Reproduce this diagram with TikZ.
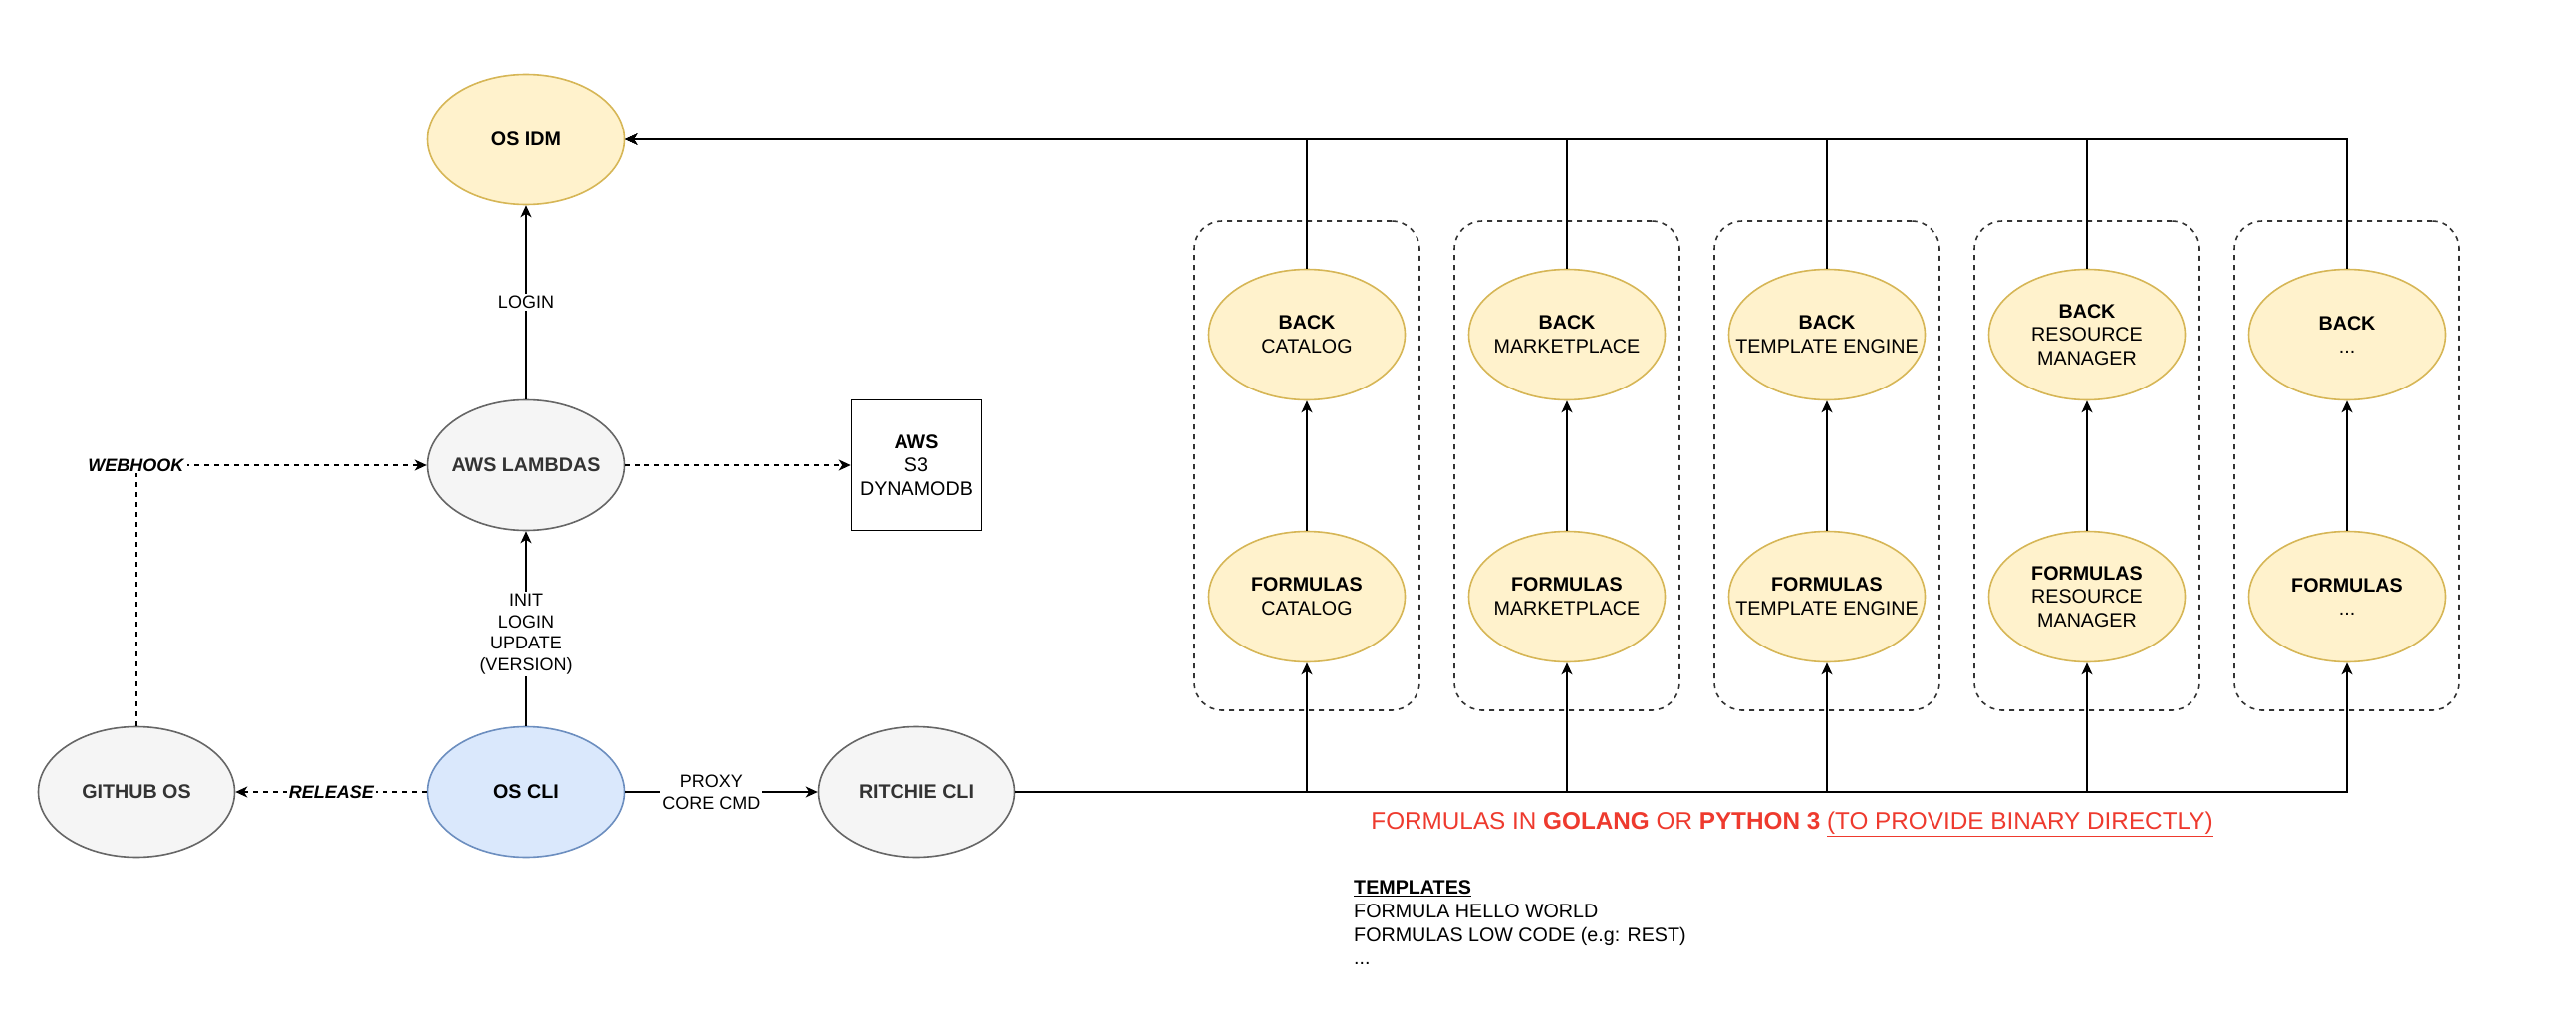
\documentclass[tikz,border=0pt]{standalone}
\usepackage{fontspec}
\setmainfont{Liberation Sans}
\usetikzlibrary{shapes.geometric,arrows.meta}
\definecolor{yfill}{HTML}{FFF2CC}
\definecolor{ystroke}{HTML}{D6B656}
\definecolor{gfill}{HTML}{F5F5F5}
\definecolor{gstroke}{HTML}{666666}
\definecolor{gtext}{HTML}{333333}
\definecolor{bfill}{HTML}{DAE8FC}
\definecolor{bstroke}{HTML}{6C8EBF}
\definecolor{redtext}{HTML}{EE3A2E}
\definecolor{grpline}{HTML}{333333}
\newcommand\nodefont{\fontsize{19.7}{23.6}\selectfont}
\newcommand\labelfont{\fontsize{18}{21.6}\selectfont}
\newcommand\notefont{\fontsize{24.3}{29}\selectfont}
\begin{document}
\begin{tikzpicture}[x=1pt,y=-1pt,
  ell/.style={ellipse, draw, line width=1.6pt, minimum width=197pt, minimum height=131pt, inner ysep=0pt, inner xsep=-45pt, align=center, font=\nodefont},
  yell/.style={ell, fill=yfill, draw=ystroke},
  gell/.style={ell, fill=gfill, draw=gstroke, text=gtext},
  bell/.style={ell, fill=bfill, draw=bstroke},
  conn/.style={line width=1.6pt, -{Stealth[length=12pt,width=11pt,inset=3.5pt]}},
  dconn/.style={conn, dash pattern=on 5pt off 5pt},
  elabel/.style={fill=white, font=\labelfont, align=center, inner sep=2pt},
  groupbox/.style={draw=grpline, line width=1.6pt, dash pattern=on 5pt off 5pt, rounded corners=28pt, minimum width=226pt, minimum height=491pt, inner sep=0pt},
  awsbox/.style={draw, line width=1.6pt, minimum width=131pt, minimum height=131pt, inner sep=0pt, align=center, font=\nodefont}
]
\useasboundingbox (0,0) rectangle (2586,1038);

% groups
\node[groupbox] (g1) at (1312,467.5) {};
\node[groupbox] (g2) at (1573,467.5) {};
\node[groupbox] (g3) at (1834,467.5) {};
\node[groupbox] (g4) at (2095,467.5) {};
\node[groupbox] (g5) at (2356,467.5) {};

% left part
\node[yell] (osidm) at (528,140) {\textbf{OS IDM}};
\node[gell] (lambdas) at (528,467) {\textbf{AWS LAMBDAS}};
\node[bell] (oscli) at (528,795) {\textbf{OS CLI}};
\node[gell] (github) at (137,795) {\textbf{GITHUB OS}};
\node[gell] (ritchie) at (920,795) {\textbf{RITCHIE CLI}};
\node[awsbox] (aws) at (920,467) {\textbf{AWS}\\S3\\DYNAMODB};

% back nodes
\node[yell] (b1) at (1312,336) {\textbf{BACK}\\CATALOG};
\node[yell] (b2) at (1573,336) {\textbf{BACK}\\MARKETPLACE};
\node[yell] (b3) at (1834,336) {\textbf{BACK}\\TEMPLATE ENGINE};
\node[yell] (b4) at (2095,336) {\textbf{BACK}\\RESOURCE\\MANAGER};
\node[yell] (b5) at (2356,336) {\textbf{BACK}\\...};

% formulas nodes
\node[yell] (f1) at (1312,599) {\textbf{FORMULAS}\\CATALOG};
\node[yell] (f2) at (1573,599) {\textbf{FORMULAS}\\MARKETPLACE};
\node[yell] (f3) at (1834,599) {\textbf{FORMULAS}\\TEMPLATE ENGINE};
\node[yell] (f4) at (2095,599) {\textbf{FORMULAS}\\RESOURCE\\MANAGER};
\node[yell] (f5) at (2356,599) {\textbf{FORMULAS}\\...};

% connectors left
\draw[conn] (lambdas) -- node[elabel]{LOGIN} (osidm);
\draw[conn] (oscli) -- node[elabel, pos=0.47]{INIT\\LOGIN\\UPDATE\\(VERSION)} (lambdas);
\draw[conn] (oscli) -- node[elabel, pos=0.45]{PROXY\\CORE CMD} (ritchie);
\draw[dconn] (oscli) -- node[elabel]{\textbf{\textit{RELEASE}}} (github);
\draw[dconn] (github) |- node[elabel, pos=0.5]{\textbf{\textit{WEBHOOK}}} (lambdas);
\draw[dconn] (lambdas) -- (aws);

% back -> os idm
\foreach \b in {b1,b2,b3,b4,b5} {
  \draw[conn] (\b.north) |- (osidm.east);
}
% formulas -> back
\foreach \i in {1,2,3,4,5} {
  \draw[conn] (f\i) -- (b\i);
}
% ritchie -> formulas
\foreach \f in {f1,f2,f3,f4,f5} {
  \draw[conn] (ritchie.east) -| (\f.south);
}

% notes
\node[font=\notefont, text=redtext, inner sep=0pt] (note) at (1799,827)
  {FORMULAS IN \textbf{GOLANG} OR \textbf{PYTHON 3} \underline{(TO PROVIDE BINARY DIRECTLY)}};
\node[font=\nodefont, align=left, anchor=north west, inner sep=0pt] (tmpl) at (1359,884)
  {\underline{\textbf{TEMPLATES}}\\FORMULA HELLO WORLD\\FORMULAS LOW CODE (e.g: REST)\\...};
\end{tikzpicture}
\end{document}
